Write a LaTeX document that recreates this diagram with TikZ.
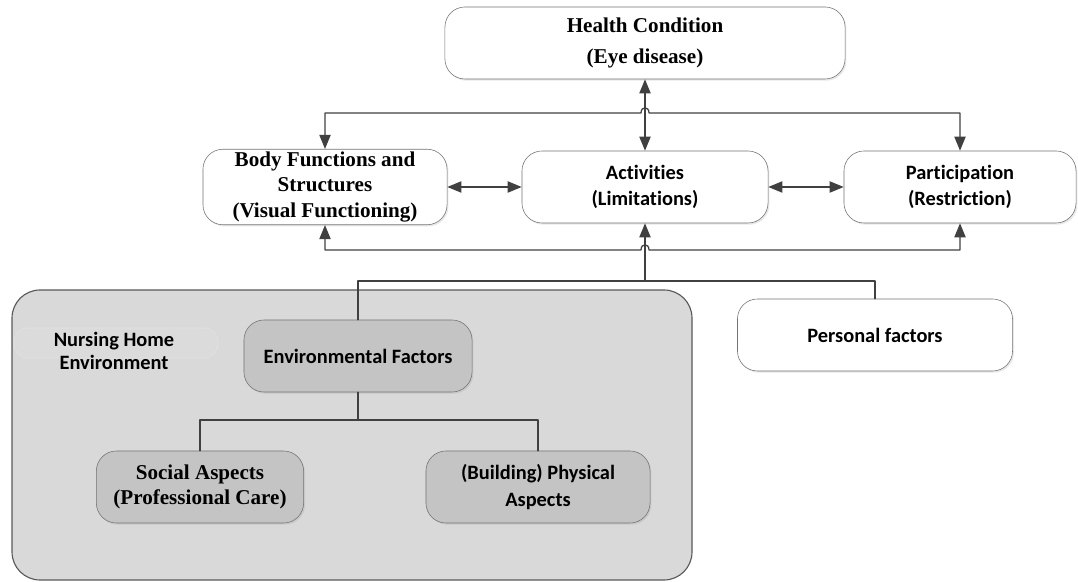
\documentclass[tikz,border=0pt]{standalone}
\usepackage{fontspec}
\setmainfont{Liberation Serif}
\newfontfamily\calibri[Ligatures=NoCommon]{Carlito}
\usetikzlibrary{arrows.meta,shadows}
\definecolor{nhgrey}{HTML}{D9D9D9}
\definecolor{boxgrey}{HTML}{C4C4C4}
\definecolor{linegrey}{HTML}{404040}
\begin{document}
\begin{tikzpicture}[x=0.025cm,y=-0.025cm,line join=round,line cap=round,>={Triangle[length=10pt,width=8pt]}]
	\tikzset{box/.style={draw=black!55,rounded corners=0.5cm,align=center,minimum height=1.8cm,inner sep=2pt,
			drop shadow={shadow xshift=1pt,shadow yshift=-1.2pt,opacity=0.18}},
		serifbox/.style={box,fill=white,font=\bfseries\fontsize{15}{18}\selectfont},
		sansbox/.style={box,fill=white,font=\calibri\bfseries\fontsize{14.5}{19}\selectfont},
		link/.style={draw=linegrey,line width=0.9pt}}
	\useasboundingbox (0,0) rectangle (1078,582);
	% nursing home surroundings
	\draw[draw=black!65,fill=nhgrey,line width=0.8pt,rounded corners=0.7cm] (12,290) rectangle (692,580);
	\node[draw=black!11,fill=black!14,rounded corners=0.35cm,minimum width=5.1cm,minimum height=0.75cm] (nhtag) at (116,343) {};
	\node[font=\calibri\bfseries\fontsize{14.5}{16.5}\selectfont,align=center] (nhlabel) at (114,351) {Nursing Home\\Environment};
	% ICF boxes
	\node[serifbox,font=\bfseries\fontsize{15}{22}\selectfont,minimum width=10cm] (health) at (645,43) {Health Condition\\(Eye disease)};
	\node[serifbox,minimum width=6.1cm,minimum height=1.75cm] (body) at (325,187) {Body Functions and\\Structures\\(Visual Functioning)};
	\node[sansbox,minimum width=6.15cm] (act) at (645,187) {Activities\\(Limitations)};
	\node[sansbox,minimum width=5.8cm] (part) at (960,187) {Participation\\(Restriction)};
	\node[sansbox,fill=boxgrey,minimum width=5.7cm] (env) at (358,356) {Environmental Factors};
	\node[sansbox,minimum width=6.875cm] (pers) at (875,335) {Personal factors};
	\node[serifbox,fill=boxgrey,minimum width=5.18cm] (social) at (200,487) {Social Aspects\\(Professional Care)};
	\node[sansbox,fill=boxgrey,minimum width=5.6cm] (phys) at (538,487) {(Building) Physical\\Aspects};
	% connectors
	\coordinate (tbl) at (641,113);
	\coordinate (tbr) at (649,113);
	\coordinate (bbl) at (641,250);
	\coordinate (bbr) at (649,250);
	\coordinate (feed) at (645,281);
	\coordinate (split) at (358,420);
	\draw[link,<->] (health.south) -- (act.north);
	\draw[link,<->] (body.north) |- (tbl) .. controls +(0,-7) and +(0,-7) .. (tbr) -| (part.north);
	\draw[link,<->] (body.east) -- (act.west);
	\draw[link,<->] (act.east) -- (part.west);
	\draw[link,<->] (body.south) |- (bbl) .. controls +(0,-7) and +(0,-7) .. (bbr) -| (part.south);
	\draw[link] (env.north) |- (feed) -| (pers.north);
	\draw[link,->] (feed) -- (act.south);
	\draw[link] (env.south) -- (split) -| (social.north);
	\draw[link] (split) -| (phys.north);
\end{tikzpicture}
\end{document}
